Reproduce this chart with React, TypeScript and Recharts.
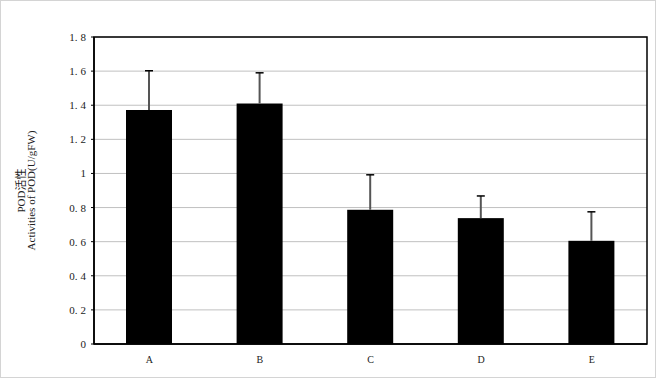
import { BarChart, Bar, XAxis, YAxis, CartesianGrid, ReferenceArea } from "recharts"

const categories = ["A", "B", "C", "D", "E"]
const podValues = [1.372, 1.41, 0.787, 0.738, 0.605]
const podErrors = [0.23, 0.18, 0.205, 0.13, 0.17]
const yTicks = [0, 0.2, 0.4, 0.6, 0.8, 1, 1.2, 1.4, 1.6, 1.8]
const boundaryTicks = [1, 2, 3, 4]

const data = categories.map((name, i) => ({
  name,
  idx: i + 0.5,
  value: podValues[i],
  err: podErrors[i],
}))

const serif = "'Liberation Serif', 'Noto Sans CJK SC', serif"

// Y ticks are written like "1. 8" in the source
const YTick = (props: any) => {
  const { x, y, payload } = props
  const s = String(Math.round(payload.value * 10) / 10)
  const parts = s.split(".")
  return (
    <text x={x} y={y} dy={4} textAnchor="end" fontFamily={serif} fontSize={11} fill="#222">
      {parts.length > 1 ? (
        <>
          <tspan>{parts[0]}.</tspan>
          <tspan dx={3}>{parts[1]}</tspan>
        </>
      ) : (
        s
      )}
    </text>
  )
}

const YLabel = (props: any) => {
  const vb = props.viewBox || {}
  const cy = vb.y + vb.height / 2
  return (
    <g fontFamily={serif} fontSize={11} fill="#222">
      <text x={25} y={cy} textAnchor="middle" transform={`rotate(-90 25 ${cy})`}>
        POD活性
      </text>
      <text x={35} y={cy} textAnchor="middle" transform={`rotate(-90 35 ${cy})`}>
        Activities of POD(U/gFW)
      </text>
    </g>
  )
}

// bar with an upward-only error bar; scale taken from the bar's own height
const BarWithError = (props: any) => {
  const { x, y, width, height, payload } = props
  const pxPerUnit = height / payload.value
  const top = y - payload.err * pxPerUnit
  const cx = x + width / 2
  return (
    <g>
      <rect x={x} y={y} width={width} height={height} fill="#000" />
      <line x1={cx} y1={y} x2={cx} y2={top} stroke="#555" strokeWidth={2} />
      <line x1={cx - 4} y1={top} x2={cx + 4} y2={top} stroke="#000" strokeWidth={1.5} />
    </g>
  )
}

export default function App() {
  return (
    <div style={{ position: "absolute", left: 0, top: 0, width: 656, height: 378, background: "#fff" }}>
      <BarChart width={656} height={378} data={data} margin={{ top: 37, right: 9, bottom: 0, left: 0 }} barSize={46}>
        <CartesianGrid vertical={false} stroke="#c0c0c0" strokeWidth={1} />
        <XAxis
          xAxisId="num"
          type="number"
          dataKey="idx"
          domain={[0, 5]}
          ticks={boundaryTicks}
          height={0}
          mirror
          axisLine={false}
          tickSize={3}
          tickLine={{ stroke: "#000" }}
          tick={() => <g />}
        />
        <XAxis
          xAxisId="cat"
          dataKey="name"
          height={34}
          tickLine={false}
          axisLine={{ stroke: "#000", strokeWidth: 1.5 }}
          tick={{ fontFamily: serif, fontSize: 10, fill: "#222" }}
          tickMargin={6}
        />
        <YAxis
          width={94}
          domain={[0, 1.8]}
          ticks={yTicks}
          interval={0}
          axisLine={{ stroke: "#000", strokeWidth: 1.5 }}
          tickLine={{ stroke: "#000" }}
          tickSize={3}
          tickMargin={5}
          tick={<YTick />}
          label={<YLabel />}
        />
        <ReferenceArea xAxisId="cat" y1={0} y2={1.8} fill="none" fillOpacity={0} stroke="#000" strokeWidth={1.5} />
        <Bar xAxisId="cat" dataKey="value" fill="#000" shape={<BarWithError />} isAnimationActive={false} />
      </BarChart>
      <div
        style={{
          position: "absolute",
          left: 0,
          top: 0,
          width: 656,
          height: 378,
          boxSizing: "border-box",
          border: "1px solid #d4d4d4",
          pointerEvents: "none",
        }}
      />
    </div>
  )
}
